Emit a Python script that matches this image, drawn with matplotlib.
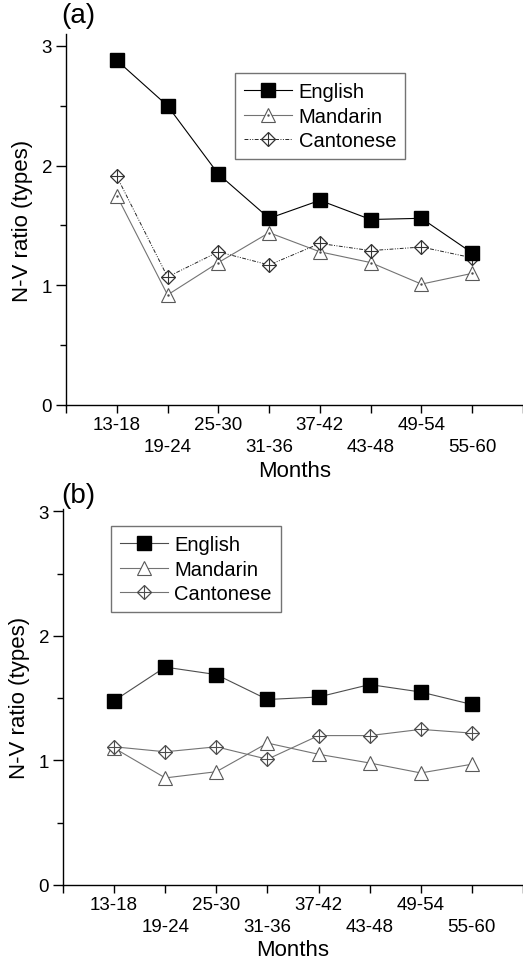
#### #### #### #### #### #### #### #### #### #### #### #### #### ####
### Import functions

import numpy as np
import matplotlib
matplotlib.use('Agg')
import matplotlib.pyplot as plt
from matplotlib.legend_handler import HandlerTuple
from matplotlib.ticker import MultipleLocator

#### #### #### #### #### #### #### #### #### #### #### #### #### ####
#### DATA

months = ['13-18', '19-24', '25-30', '31-36', '37-42', '43-48', '49-54', '55-60']

english_a = [2.88, 2.50, 1.93, 1.56, 1.71, 1.55, 1.56, 1.27]
mandarin_a = [1.75, 0.92, 1.19, 1.44, 1.28, 1.19, 1.01, 1.10]
cantonese_a = [1.91, 1.07, 1.28, 1.17, 1.35, 1.29, 1.32, 1.23]

english_b = [1.48, 1.75, 1.69, 1.49, 1.51, 1.61, 1.55, 1.45]
mandarin_b = [1.10, 0.86, 0.91, 1.14, 1.05, 0.98, 0.90, 0.97]
cantonese_b = [1.11, 1.07, 1.11, 1.01, 1.20, 1.20, 1.25, 1.22]

series_names = ['English', 'Mandarin', 'Cantonese']

#### #### #### #### #### #### #### #### #### #### #### #### #### ####
#### PLOT

plt.rcParams['font.family'] = ['Liberation Sans', 'DejaVu Sans']

W, H = 523, 962
fg = plt.figure(figsize=(W/100., H/100.), dpi=100)


def panel(rect, eng, man, can, style, leg_anchor, ytop, dot):

	ax = fg.add_axes(rect)
	x = np.arange(1, len(months)+1)

	# English
	l_e, = ax.plot(x, eng, color=style['eng_line'], lw=0.8, marker='s', ms=9.5,
		mfc='k', mec='k', zorder=4)

	# Mandarin
	l_m, = ax.plot(x, man, color=style['man_line'], lw=0.8, marker='^', ms=9.5,
		mfc='white', mec=style['man_edge'], mew=0.8, zorder=3)
	man_handles = [l_m]
	if dot:
		d_m, = ax.plot(x, man, ls='none', marker='.', ms=1.5, color='0.3', zorder=3.5)
		man_handles.append(d_m)

	# Cantonese
	if style['can_dash']:
		l_c, = ax.plot(x, can, color=style['can_line'], lw=0.7, marker='D', ms=7,
			mfc='white', mec=style['can_edge'], mew=0.9, zorder=3,
			dashes=(4, 1.5, 1, 1.5, 1, 1.5))
	else:
		l_c, = ax.plot(x, can, color=style['can_line'], lw=0.8, marker='D', ms=7,
			mfc='white', mec=style['can_edge'], mew=0.9, zorder=3)
	p_c, = ax.plot(x, can, ls='none', marker='+', ms=10, mew=0.8,
		color=style['can_edge'], zorder=3.5)

	ax.set_xlim(0, 9)
	ax.set_ylim(0, ytop)

	ax.spines['top'].set_visible(False)
	ax.spines['right'].set_visible(False)
	for sp in ['left', 'bottom']:
		ax.spines[sp].set_linewidth(1.0)

	# alternate the month labels on two rows
	ax.set_xticks(np.arange(0, 10))
	ax.set_xticklabels([''] + months + [''])
	for ii, tick in enumerate(ax.xaxis.get_major_ticks()):
		if ii % 2 == 0 and ii > 0:
			tick.set_pad(18)
		else:
			tick.set_pad(2)
	ax.tick_params(axis='x', direction='out', length=6, width=1, labelsize=13.5)

	ax.set_yticks([0, 1, 2, 3])
	ax.yaxis.set_minor_locator(MultipleLocator(0.5))
	ax.tick_params(axis='y', which='major', direction='out', length=7, width=1,
		labelsize=13.5, pad=3)
	ax.tick_params(axis='y', which='minor', direction='out', length=4, width=1)

	ax.set_xlabel('Months', fontsize=16, labelpad=3)
	ax.set_ylabel('N-V ratio (types)', fontsize=16, labelpad=6)

	leg = ax.legend([l_e, tuple(man_handles), (l_c, p_c)], series_names,
		handler_map={tuple: HandlerTuple(ndivide=1, pad=0)},
		loc='upper left', bbox_to_anchor=leg_anchor, borderaxespad=0,
		fontsize=14.5, handlelength=2.4, handletextpad=0.3, labelspacing=0.28,
		borderpad=0.45, fancybox=False, framealpha=1, edgecolor='0.45')
	leg.get_frame().set_linewidth(1.0)

	return ax


style_a = dict(eng_line='k', man_line='0.45', man_edge='0.35',
	can_line='0.15', can_edge='0.2', can_dash=True)
style_b = dict(eng_line='0.3', man_line='0.45', man_edge='0.35',
	can_line='0.45', can_edge='0.3', can_dash=False)

#

ax_a = panel([66/523., 1-406/962., (523-66)/523., 371/962.],
	english_a, mandarin_a, cantonese_a, style_a, (0.37, 0.895), 3.1, True)

ax_b = panel([63/523., 1-886/962., (523-63)/523., 376/962.],
	english_b, mandarin_b, cantonese_b, style_b, (0.104, 0.955), 3.02, False)

fg.text(61/523., 1-16/962., '(a)', fontsize=20, ha='left', va='center')
fg.text(61/523., 1-496/962., '(b)', fontsize=20, ha='left', va='center')

plt.savefig('out.png', dpi=100)
